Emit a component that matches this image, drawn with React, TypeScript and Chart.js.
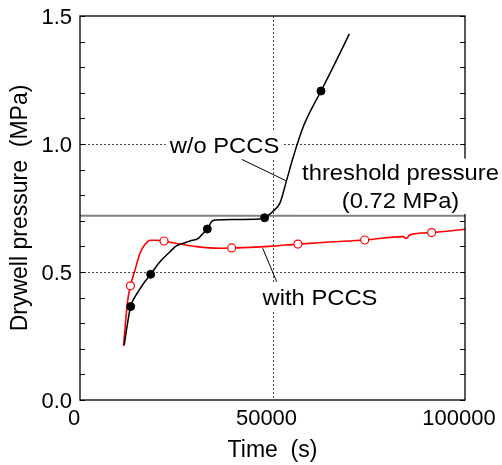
import React, { useEffect, useRef } from 'react';
import { Chart, registerables } from 'chart.js';

Chart.register(...registerables);

// ---- data (time in s, pressure in MPa) ----
const woTime = [11500, 12200, 13160, 15000, 16500, 18350, 20780, 23380, 25110, 26840, 28570, 30730, 31600, 33070, 34200, 35100, 40000, 46750, 48000, 49000, 50200, 51950, 53680, 55410, 58010, 62600, 65800, 69960];
const woPress = [0.215, 0.286, 0.365, 0.42, 0.455, 0.491, 0.54, 0.579, 0.603, 0.612, 0.621, 0.631, 0.645, 0.668, 0.697, 0.703, 0.705, 0.707, 0.712, 0.722, 0.738, 0.77, 0.859, 0.95, 1.068, 1.207, 1.302, 1.43];

const wTime = [11300, 11870, 12400, 13100, 14290, 15580, 16500, 17320, 18200, 20000, 21820, 25970, 30300, 36360, 39400, 44000, 50000, 56600, 65000, 73940, 83980, 84700, 85710, 91340, 100000];
const wPress = [0.21, 0.31, 0.39, 0.446, 0.508, 0.573, 0.6, 0.615, 0.624, 0.624, 0.621, 0.609, 0.599, 0.593, 0.594, 0.596, 0.601, 0.609, 0.617, 0.625, 0.638, 0.631, 0.645, 0.654, 0.667];

const woMarkTime = [13160, 18350, 33070, 47950, 62600];
const woMarkPress = [0.365, 0.491, 0.668, 0.712, 1.207];

const wMarkTime = [13100, 21820, 39400, 56600, 73940, 91340];
const wMarkPress = [0.446, 0.621, 0.594, 0.609, 0.625, 0.654];

const xTickValues = [0, 50000, 100000];
const yTickValues = [0, 0.5, 1.0, 1.5];
const yMinorTicks = [0, 0.1, 0.2, 0.3, 0.4, 0.5, 0.6, 0.7, 0.8, 0.9, 1.0, 1.1, 1.2, 1.3, 1.4, 1.5];
const gridYValues = [0.5, 1.0];
const gridXValues = [50000];
const thresholdPressure = 0.72;

// annotations (data coords)
const labelWo = { lines: ['w/o PCCS'], x: 37530, y: 0.965 };
const labelW = { lines: ['with PCCS'], x: 62340, y: 0.371 };
const labelTh = { lines: ['threshold pressure', '(0.72 MPa)'], x: 83250, y: 0.861 };
const leaderWo = [[42000, 0.94], [53700, 0.855]];
const leaderW = [[47450, 0.593], [51090, 0.462]];

const FONT = 'Arial, "Liberation Sans", sans-serif';

const toPts = (xs: number[], ys: number[]) => xs.map((x, i) => ({ x, y: ys[i] }));

const decoPlugin = {
  id: 'deco',
  beforeDatasetsDraw(chart: any) {
    const { ctx, chartArea: a, scales } = chart;
    const x = scales.x, y = scales.y;
    ctx.save();
    ctx.strokeStyle = '#444';
    ctx.lineWidth = 1;
    ctx.setLineDash([2, 2]);
    gridYValues.forEach((v) => {
      const py = Math.round(y.getPixelForValue(v)) + 0.5;
      ctx.beginPath(); ctx.moveTo(a.left, py); ctx.lineTo(a.right, py); ctx.stroke();
    });
    gridXValues.forEach((v) => {
      const px = Math.round(x.getPixelForValue(v)) + 0.5;
      ctx.beginPath(); ctx.moveTo(px, a.top); ctx.lineTo(px, a.bottom); ctx.stroke();
    });
    ctx.setLineDash([]);
    ctx.strokeStyle = '#808080';
    ctx.lineWidth = 2;
    const ty = y.getPixelForValue(thresholdPressure);
    ctx.beginPath(); ctx.moveTo(a.left, ty); ctx.lineTo(a.right, ty); ctx.stroke();
    ctx.restore();
  },
  afterDatasetsDraw(chart: any) {
    const { ctx, chartArea: a, scales } = chart;
    const x = scales.x, y = scales.y;
    ctx.save();
    // frame
    ctx.strokeStyle = '#000';
    ctx.lineWidth = 1.3;
    ctx.strokeRect(a.left, a.top, a.right - a.left, a.bottom - a.top);
    // inward minor ticks
    ctx.lineWidth = 1;
    yMinorTicks.forEach((v) => {
      const py = Math.round(y.getPixelForValue(v)) + 0.5;
      ctx.beginPath(); ctx.moveTo(a.left, py); ctx.lineTo(a.left + 5, py); ctx.stroke();
      ctx.beginPath(); ctx.moveTo(a.right - 5, py); ctx.lineTo(a.right, py); ctx.stroke();
    });
    // leaders
    [leaderWo, leaderW].forEach((ld) => {
      ctx.beginPath();
      ctx.moveTo(x.getPixelForValue(ld[0][0]), y.getPixelForValue(ld[0][1]));
      ctx.lineTo(x.getPixelForValue(ld[1][0]), y.getPixelForValue(ld[1][1]));
      ctx.stroke();
    });
    // labels
    const stretch = 1.08;
    const lh = 28.5;
    ctx.font = '22px ' + FONT;
    [labelWo, labelW, labelTh].forEach((lb) => {
      const cx = x.getPixelForValue(lb.x);
      const by = y.getPixelForValue(lb.y);
      const w = Math.max(...lb.lines.map((t) => ctx.measureText(t).width)) * stretch;
      const top = by - 21;
      const bottom = by + (lb.lines.length - 1) * lh + 6;
      ctx.fillStyle = '#fff';
      ctx.fillRect(cx - w / 2 - 4, top, w + 8, bottom - top);
      ctx.fillStyle = '#000';
      ctx.textAlign = 'center';
      ctx.textBaseline = 'alphabetic';
      lb.lines.forEach((t, i) => {
        ctx.save();
        ctx.translate(cx, by + i * lh);
        ctx.scale(stretch, 1);
        ctx.fillText(t, 0, 0);
        ctx.restore();
      });
    });
    ctx.restore();
  },
};

export default function App() {
  const ref = useRef<HTMLCanvasElement | null>(null);
  useEffect(() => {
    document.body.style.margin = '0';
    const canvas = ref.current!;
    const chart = new Chart(canvas, {
      type: 'line',
      data: {
        datasets: [
          {
            data: toPts(woMarkTime, woMarkPress),
            showLine: false,
            pointRadius: 4,
            pointBackgroundColor: '#000',
            pointBorderColor: '#000',
            pointBorderWidth: 1,
          },
          {
            data: toPts(wMarkTime, wMarkPress),
            showLine: false,
            pointRadius: 4,
            pointBackgroundColor: '#fff',
            pointBorderColor: '#ff0000',
            pointBorderWidth: 1.2,
          },
          {
            data: toPts(woTime, woPress),
            borderColor: '#000',
            borderWidth: 1.5,
            pointRadius: 0,
            cubicInterpolationMode: 'monotone',
          },
          {
            data: toPts(wTime, wPress),
            borderColor: '#ff0000',
            borderWidth: 1.6,
            pointRadius: 0,
            cubicInterpolationMode: 'monotone',
          },
        ],
      } as any,
      options: {
        responsive: false,
        animation: false,
        devicePixelRatio: 1,
        layout: { autoPadding: false, padding: { top: 16, right: 37, left: 0, bottom: 0 } },
        plugins: { legend: { display: false }, tooltip: { enabled: false } },
        scales: {
          x: {
            type: 'linear',
            min: 0,
            max: 100000,
            afterBuildTicks: (s: any) => { s.ticks = xTickValues.map((v) => ({ value: v })); },
            afterFit: (s: any) => {
              s.height = 65;
              s.paddingLeft = 0; s.paddingRight = 0; s.paddingTop = 0; s.paddingBottom = 0;
            },
            grid: { display: false, drawTicks: false },
            border: { display: false },
            ticks: {
              color: '#000',
              font: { family: FONT, size: 22 },
              padding: 6,
              labelOffset: -6,
              maxRotation: 0,
              autoSkip: false,
              callback: (v: any) => String(v),
            },
            title: {
              display: true,
              text: 'Time  (s)',
              color: '#000',
              font: { family: FONT, size: 23 },
              padding: { top: 0, bottom: 1 },
            },
          },
          y: {
            type: 'linear',
            min: 0,
            max: 1.5,
            afterBuildTicks: (s: any) => { s.ticks = yTickValues.map((v) => ({ value: v })); },
            afterFit: (s: any) => {
              s.width = 80;
              s.paddingLeft = 0; s.paddingRight = 0; s.paddingTop = 0; s.paddingBottom = 0;
            },
            grid: { display: false, drawTicks: false },
            border: { display: false },
            ticks: {
              color: '#000',
              font: { family: FONT, size: 22 },
              padding: 8,
              labelOffset: 2,
              callback: (v: any) => Number(v).toFixed(1),
            },
            title: {
              display: true,
              text: 'Drywell pressure  (MPa)',
              color: '#000',
              font: { family: FONT, size: 23 },
              padding: { top: 7, bottom: 0 },
            },
          },
        },
      } as any,
      plugins: [decoPlugin],
    });
    return () => chart.destroy();
  }, []);
  return (
    <div style={{ width: 502, height: 465, position: 'relative' }}>
      <canvas ref={ref} width={502} height={465} style={{ display: 'block' }} />
    </div>
  );
}
